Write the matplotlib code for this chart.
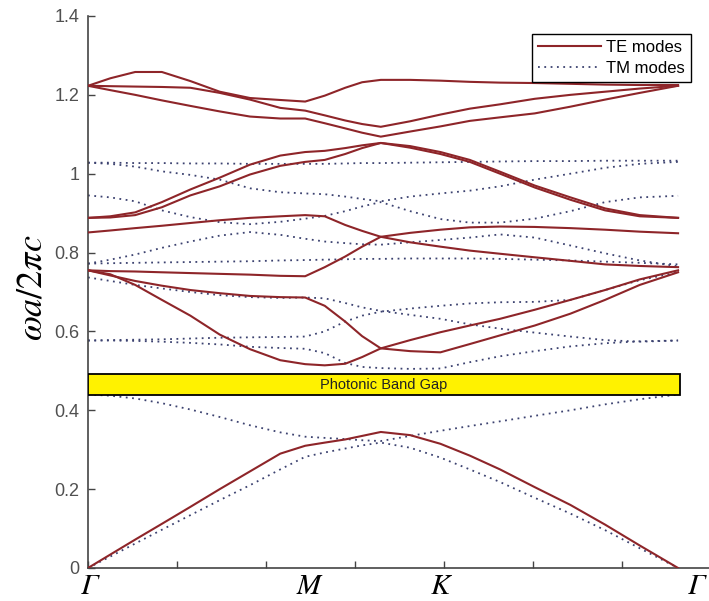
import matplotlib
matplotlib.use("Agg")
import matplotlib.pyplot as plt
from matplotlib.patches import Rectangle
from matplotlib.ticker import FuncFormatter

plt.rcParams['mathtext.fontset'] = 'stix'

# k-path position in units of the axis tick spacing (Gamma=0, M=2.44, K=3.29, Gamma=6.63)
k = [0, 0.25, 0.53, 0.83, 1.15, 1.48, 1.82, 2.16, 2.44, 2.66, 2.89, 3.08, 3.29,
     3.62, 3.96, 4.29, 4.63, 5.02, 5.42, 5.81, 6.20, 6.63]

# TE bands (solid)
te1 = [0, 0.034, 0.072, 0.112, 0.155, 0.20, 0.245, 0.29, 0.31, 0.318, 0.326, 0.335, 0.345,
       0.337, 0.315, 0.285, 0.25, 0.205, 0.16, 0.11, 0.057, 0]
te2 = [0.755, 0.745, 0.718, 0.68, 0.64, 0.592, 0.555, 0.527, 0.517, 0.514, 0.518, 0.535, 0.557,
       0.55, 0.547, 0.568, 0.59, 0.615, 0.645, 0.68, 0.718, 0.75]
te3 = [0.755, 0.742, 0.728, 0.716, 0.705, 0.697, 0.69, 0.687, 0.686, 0.665, 0.625, 0.588, 0.557,
       0.578, 0.598, 0.615, 0.632, 0.655, 0.68, 0.705, 0.732, 0.755]
te4 = [0.755, 0.753, 0.752, 0.75, 0.748, 0.746, 0.744, 0.741, 0.74, 0.763, 0.79, 0.815, 0.84,
       0.85, 0.858, 0.864, 0.866, 0.865, 0.862, 0.858, 0.853, 0.849]
te5 = [0.851, 0.856, 0.862, 0.868, 0.875, 0.882, 0.888, 0.892, 0.895, 0.892, 0.87, 0.855, 0.84,
       0.826, 0.815, 0.805, 0.797, 0.788, 0.779, 0.77, 0.766, 0.763]
te6 = [0.888, 0.889, 0.895, 0.915, 0.945, 0.968, 0.998, 1.02, 1.03, 1.035, 1.05, 1.065, 1.078,
       1.066, 1.05, 1.03, 1.0, 0.965, 0.934, 0.907, 0.892, 0.888]
te7 = [0.888, 0.892, 0.902, 0.928, 0.96, 0.99, 1.023, 1.046, 1.055, 1.058, 1.065, 1.072, 1.078,
       1.07, 1.055, 1.035, 1.005, 0.97, 0.94, 0.912, 0.895, 0.888]
te8 = [1.223, 1.212, 1.2, 1.186, 1.172, 1.158, 1.145, 1.14, 1.14, 1.128, 1.115, 1.104, 1.094,
       1.107, 1.12, 1.134, 1.143, 1.153, 1.17, 1.188, 1.205, 1.223]
te9 = [1.223, 1.222, 1.221, 1.22, 1.218, 1.205, 1.188, 1.167, 1.16, 1.148, 1.135, 1.126, 1.119,
       1.133, 1.15, 1.165, 1.176, 1.19, 1.2, 1.208, 1.216, 1.223]
te10 = [1.223, 1.242, 1.258, 1.258, 1.235, 1.208, 1.192, 1.187, 1.183, 1.198, 1.218, 1.232, 1.238,
        1.238, 1.236, 1.233, 1.231, 1.23, 1.228, 1.226, 1.225, 1.225]

# TM bands (dotted)
tm1 = [0, 0.029, 0.062, 0.097, 0.134, 0.172, 0.21, 0.25, 0.282, 0.293, 0.303, 0.311, 0.318,
       0.305, 0.28, 0.25, 0.218, 0.178, 0.138, 0.096, 0.05, 0]
tm2 = [0.44, 0.437, 0.43, 0.418, 0.402, 0.383, 0.362, 0.344, 0.333, 0.33, 0.327, 0.324, 0.322,
       0.335, 0.348, 0.36, 0.372, 0.386, 0.40, 0.415, 0.428, 0.44]
tm3 = [0.577, 0.577, 0.576, 0.574, 0.571, 0.567, 0.561, 0.558, 0.556, 0.545, 0.52, 0.51, 0.507,
       0.505, 0.506, 0.522, 0.537, 0.55, 0.562, 0.57, 0.575, 0.577]
tm4 = [0.577, 0.578, 0.579, 0.58, 0.582, 0.584, 0.585, 0.586, 0.587, 0.6, 0.625, 0.64, 0.65,
       0.658, 0.665, 0.671, 0.674, 0.675, 0.68, 0.705, 0.73, 0.75]
tm5 = [0.737, 0.728, 0.718, 0.709, 0.70, 0.692, 0.687, 0.685, 0.686, 0.684, 0.672, 0.661, 0.652,
       0.642, 0.632, 0.618, 0.607, 0.597, 0.587, 0.578, 0.574, 0.577]
tm6 = [0.772, 0.773, 0.774, 0.775, 0.776, 0.777, 0.778, 0.78, 0.781, 0.782, 0.783, 0.784, 0.784,
       0.785, 0.785, 0.785, 0.784, 0.782, 0.78, 0.777, 0.774, 0.77]
tm7 = [0.772, 0.782, 0.795, 0.812, 0.828, 0.843, 0.852, 0.845, 0.835, 0.828, 0.824, 0.821, 0.82,
       0.826, 0.832, 0.838, 0.846, 0.838, 0.818, 0.798, 0.78, 0.765]
tm8 = [0.945, 0.94, 0.93, 0.907, 0.89, 0.877, 0.872, 0.878, 0.886, 0.893, 0.905, 0.917, 0.928,
       0.905, 0.885, 0.876, 0.876, 0.886, 0.905, 0.928, 0.94, 0.944]
tm9 = [1.028, 1.025, 1.018, 1.006, 0.997, 0.985, 0.963, 0.953, 0.95, 0.948, 0.942, 0.936, 0.93,
       0.942, 0.95, 0.957, 0.968, 0.985, 1.0, 1.015, 1.025, 1.03]
tm10 = [1.028, 1.028, 1.027, 1.027, 1.026, 1.026, 1.025, 1.025, 1.025, 1.025, 1.026, 1.027, 1.027,
        1.028, 1.029, 1.03, 1.031, 1.032, 1.032, 1.033, 1.033, 1.033]

te_bands = [te1, te2, te3, te4, te5, te6, te7, te8, te9, te10]
tm_bands = [tm1, tm2, tm3, tm4, tm5, tm6, tm7, tm8, tm9, tm10]

gap_lo, gap_hi = 0.438, 0.491
gap_end = 6.65

sym_labels = ['Γ', 'M', 'K', 'Γ']
sym_pos = [0.02, 2.48, 3.96, 6.84]

te_color = '#8e2529'
tm_color = '#3c4270'

fig = plt.figure(figsize=(7.09, 6.01), dpi=100)
ax = fig.add_axes([88 / 709, 33 / 601, 623 / 709, 552 / 601])

for i, b in enumerate(tm_bands):
    ax.plot(k, b, color=tm_color, lw=1.3, linestyle=(0, (1, 2.5)),
            label='TM modes' if i == 0 else None, zorder=2)
for i, b in enumerate(te_bands):
    ax.plot(k, b, color=te_color, lw=1.5, label='TE modes' if i == 0 else None, zorder=3)

ax.add_patch(Rectangle((0, gap_lo), gap_end, gap_hi - gap_lo, facecolor='#fff200',
                       edgecolor='black', lw=1.3, zorder=4))
ax.text(gap_end / 2, (gap_lo + gap_hi) / 2, 'Photonic Band Gap', ha='center', va='center',
        fontsize=10.5, family='Liberation Sans', color='#222222', zorder=5)

ax.set_xlim(0, 7)
ax.set_ylim(0, 1.4)
ax.set_xticks(range(8))
ax.set_xticklabels([])
ax.set_yticks([0, 0.2, 0.4, 0.6, 0.8, 1.0, 1.2, 1.4])
ax.yaxis.set_major_formatter(FuncFormatter(lambda v, p: '%g' % round(v, 2)))
ax.tick_params(direction='in', length=5, width=1, colors='#444444', labelsize=13, pad=6)
for lab in ax.get_yticklabels():
    lab.set_family('Liberation Sans')
    lab.set_color('#505050')
ax.spines['top'].set_visible(False)
ax.spines['right'].set_visible(False)
for s in ['left', 'bottom']:
    ax.spines[s].set_color('#444444')
    ax.spines[s].set_linewidth(1.2)

for lab, x in zip(sym_labels, sym_pos):
    ax.text(x, -0.035, lab, transform=ax.get_xaxis_transform(), ha='center', va='center',
            fontsize=21, family='STIXGeneral', style='italic', color='black')

fig.text(32 / 709, 1 - 288 / 601, r'$\omega a/2\pi c$', rotation=90, ha='center', va='center',
         fontsize=26)

h, l = ax.get_legend_handles_labels()
order = [l.index('TE modes'), l.index('TM modes')]
leg = ax.legend([h[i] for i in order], [l[i] for i in order], loc='upper right',
                bbox_to_anchor=(691 / 709, 1 - 34 / 601), bbox_transform=fig.transFigure,
                borderaxespad=0, fancybox=False, framealpha=1, edgecolor='black',
                prop={'family': 'Liberation Sans', 'size': 12}, handlelength=3.8,
                handletextpad=0.3, borderpad=0.35, labelspacing=0.35)
leg.get_frame().set_linewidth(1.0)
leg.set_zorder(10)

fig.savefig('out.png', dpi=100)
